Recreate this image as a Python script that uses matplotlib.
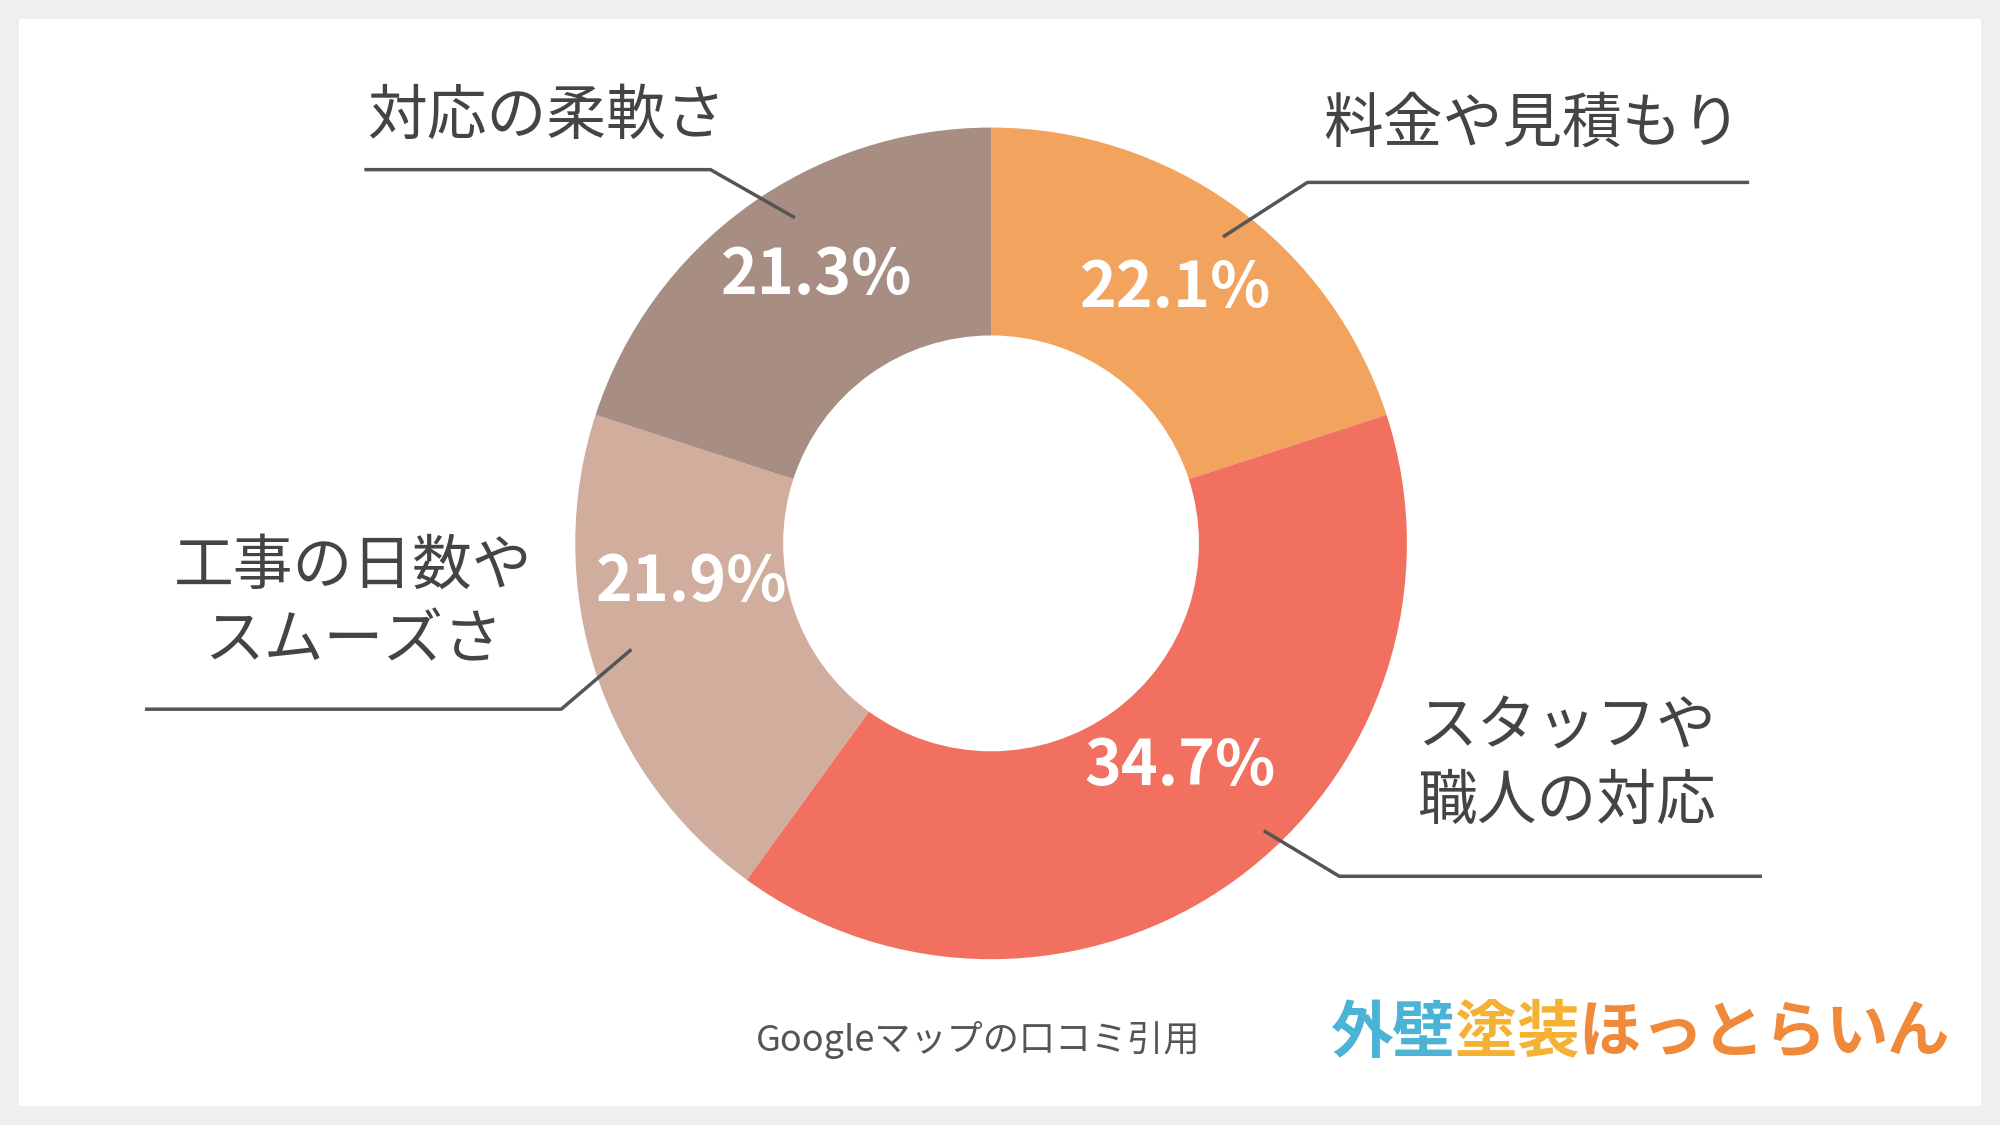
import matplotlib
matplotlib.use("Agg")
import matplotlib.pyplot as plt
from matplotlib.patches import Rectangle

categories = ["料金や見積もり", "スタッフや\n職人の対応", "工事の日数や\nスムーズさ", "対応の柔軟さ"]
pct_values = [22.1, 34.7, 21.9, 21.3]
# arc shares as actually drawn in the reference picture
arc_shares = [20, 40, 20, 20]
colors = ["#F2A35D", "#F2705F", "#D0AD9C", "#A88E82"]
pct_labels = [f"{v}%" for v in pct_values]

FONT = "Noto Sans CJK JP"
W, H = 1568, 882
fig = plt.figure(figsize=(20, 11.25), dpi=100)
fig.patch.set_facecolor("#EFEFEF")
ax = fig.add_axes([0, 0, 1, 1])
ax.set_xlim(0, W); ax.set_ylim(H, 0); ax.axis("off")
ax.add_patch(Rectangle((15, 15), 1538, 852, facecolor="white", edgecolor="none", zorder=0))

cx, cy, R = 777, 426, 326
ax.pie(arc_shares, colors=colors, startangle=-90, counterclock=True, center=(cx, cy), radius=R,
       wedgeprops=dict(width=R * 0.5, edgecolor="none"), frame=True)
ax.set_xlim(0, W); ax.set_ylim(H, 0); ax.axis("off")
ax.set_aspect("equal")

pct_pos = [(922, 226), (925, 601), (542, 457), (640, 216)]
for (x, y), t in zip(pct_pos, pct_labels):
    ax.text(x, y, t, color="white", fontsize=45, fontweight="bold", fontfamily=FONT,
            ha="center", va="center")

lc = "#555555"
lines = [[(960, 185), (1025, 143), (1370, 143)],
         [(992, 652), (1050, 687), (1380, 687)],
         [(494, 510), (440, 556), (115, 556)],
         [(622, 170), (557, 133), (287, 133)]]
for pts in lines:
    ax.plot([p[0] for p in pts], [p[1] for p in pts], color=lc, lw=2.5)

label_pos = [(1201, 98), (1228, 600), (277, 474), (428, 92)]
for (x, y), t in zip(label_pos, categories):
    ax.text(x, y, t, color="#444444", fontsize=43, fontfamily=FONT, ha="center", va="center",
            linespacing=1.3)

ax.text(767, 815, "Googleマップの口コミ引用", color="#555555", fontsize=26, fontfamily=FONT,
        ha="center", va="center")

logo_text = list("外壁塗装ほっとらいん")
logo_colors = ["#4AB3D6"] * 2 + ["#F5B133"] * 2 + ["#F08A3A"] * 6
for i, (t, c) in enumerate(zip(logo_text, logo_colors)):
    ax.text(1043 + i * 48.5, 810, t, color=c, fontsize=45, fontweight="bold", fontfamily=FONT,
            ha="left", va="center")

fig.savefig("out.png", dpi=100, facecolor=fig.get_facecolor())
